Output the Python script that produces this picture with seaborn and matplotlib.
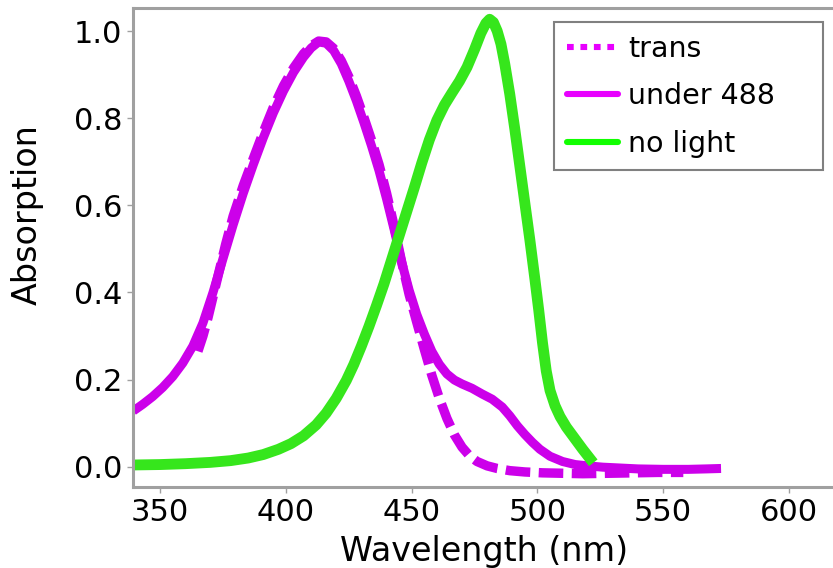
import matplotlib
matplotlib.use("Agg")
import matplotlib.pyplot as plt
from matplotlib.lines import Line2D
import pandas as pd
import seaborn as sns

# Absorption spectra (wavelength in nm, absorption in a.u.)
nolight_wl = [339, 350, 360, 370, 378, 385, 391, 397, 402, 407, 412, 416, 420, 424,
              427, 430, 433, 436, 439, 442, 445, 448, 451, 454, 457, 460, 463, 466,
              469, 472, 475, 477.5, 479.5, 481, 482.5, 484, 485.5, 487, 489, 491, 493,
              495, 497, 499, 500.5, 502, 503.5, 505, 507, 509, 511.5, 514.3, 518, 522.2]
nolight_abs = [0.004, 0.005, 0.007, 0.010, 0.014, 0.020, 0.028, 0.040, 0.053, 0.071,
               0.096, 0.123, 0.157, 0.198, 0.235, 0.277, 0.322, 0.370, 0.420, 0.475,
               0.530, 0.585, 0.640, 0.697, 0.750, 0.795, 0.830, 0.858, 0.885, 0.917,
               0.958, 0.995, 1.018, 1.027, 1.020, 1.000, 0.970, 0.925, 0.855, 0.775,
               0.690, 0.605, 0.520, 0.430, 0.360, 0.285, 0.220, 0.175, 0.140, 0.115,
               0.091, 0.069, 0.040, 0.009]

under488_wl = [339.3, 343, 347, 351, 355, 359, 363, 367, 371, 375, 379, 383, 387, 391,
               395, 399, 403, 407, 410, 413, 416, 419, 422, 425, 428, 431, 434, 437,
               440, 443, 446, 449, 452, 455, 458, 461, 464, 467, 470, 474, 478, 482,
               486, 489, 492, 495, 498, 501, 505, 510, 515, 520, 526, 533, 540, 550,
               560, 567, 573]
under488_abs = [0.128, 0.143, 0.161, 0.182, 0.207, 0.238, 0.277, 0.330, 0.400, 0.478,
                0.555, 0.627, 0.693, 0.755, 0.812, 0.862, 0.905, 0.940, 0.961, 0.975,
                0.972, 0.955, 0.925, 0.885, 0.840, 0.790, 0.737, 0.680, 0.615, 0.545,
                0.470, 0.405, 0.350, 0.305, 0.265, 0.235, 0.213, 0.199, 0.190, 0.180,
                0.167, 0.155, 0.137, 0.117, 0.094, 0.074, 0.056, 0.040, 0.024, 0.012,
                0.005, 0.002, -0.001, -0.003, -0.005, -0.006, -0.006, -0.005, -0.004]

trans_wl = [365, 367, 369, 371, 373, 376, 379, 383, 387, 391, 395, 399, 403, 407, 410,
            413, 416, 419, 422, 425, 428, 431, 434, 437, 440, 443, 446, 449, 452, 455,
            458, 461, 464, 467, 470, 473, 476, 480, 484, 489, 495, 502, 510, 518, 528,
            538, 548, 558]
trans_abs = [0.265, 0.300, 0.342, 0.390, 0.438, 0.510, 0.575, 0.645, 0.707, 0.768,
             0.825, 0.874, 0.915, 0.948, 0.966, 0.977, 0.975, 0.960, 0.932, 0.895,
             0.851, 0.802, 0.750, 0.694, 0.628, 0.553, 0.470, 0.395, 0.332, 0.270,
             0.210, 0.157, 0.111, 0.073, 0.045, 0.025, 0.012, 0.002, -0.004, -0.009,
             -0.012, -0.014, -0.015, -0.016, -0.015, -0.014, -0.013, -0.013]

x_ticks = [350, 400, 450, 500, 550, 600]
y_ticks = [0.0, 0.2, 0.4, 0.6, 0.8, 1.0]
legend_labels = ["trans", "under 488", "no light"]

MAGENTA = "#cc00ea"
GREEN = "#36e61c"
MAGENTA_KEY = "#e800ff"
GREEN_KEY = "#11ff00"

sns.set_theme(style="white")
plt.rcParams["font.family"] = ["DejaVu Sans"]
plt.rcParams["text.color"] = "black"
plt.rcParams["axes.labelcolor"] = "black"

fig = plt.figure(figsize=(8.33, 5.68), dpi=100)
# the plotting frame runs slightly past the right edge of the canvas
ax = fig.add_axes([0.160, 0.143, 0.849, 0.843])

under = pd.DataFrame({"wl": under488_wl, "abs": under488_abs})
trans = pd.DataFrame({"wl": trans_wl, "abs": trans_abs})
nolight = pd.DataFrame({"wl": nolight_wl, "abs": nolight_abs})

sns.lineplot(data=under, x="wl", y="abs", ax=ax, color=MAGENTA, linewidth=6.5,
             solid_joinstyle="round", solid_capstyle="butt", legend=False)
sns.lineplot(data=trans, x="wl", y="abs", ax=ax, color=MAGENTA, linewidth=6.8,
             linestyle=(0, (2.6, 0.9)), dash_capstyle="butt", legend=False)
sns.lineplot(data=nolight, x="wl", y="abs", ax=ax, color=GREEN, linewidth=7.8,
             solid_joinstyle="round", solid_capstyle="butt", legend=False)

ax.set_xlim(339.3, 620.5)
ax.set_ylim(-0.046, 1.053)
ax.set_xticks(x_ticks)
ax.set_yticks(y_ticks)
ax.set_xticklabels([str(t) for t in x_ticks])
ax.set_yticklabels([f"{t:.1f}" for t in y_ticks])
ax.tick_params(axis="both", which="major", direction="out", length=4, width=1,
               color="#a0a0a0", labelsize=22, labelcolor="black", pad=4,
               bottom=True, left=True)

for side in ["left", "right", "top", "bottom"]:
    ax.spines[side].set_color("#a0a0a0")
    ax.spines[side].set_linewidth(2.2)

ax.set_xlabel("Wavelength (nm)", fontsize=24, color="black")
ax.set_ylabel("Absorption", fontsize=24, color="black")
ax.xaxis.set_label_coords((484 - 133) / 707, -0.100)
ax.yaxis.set_label_coords((43 - 133) / 707, 0.568)

handles = [
    Line2D([], [], color=MAGENTA_KEY, linewidth=4.4, linestyle=(0, (1.1, 1.1))),
    Line2D([], [], color=MAGENTA_KEY, linewidth=4.4),
    Line2D([], [], color=GREEN_KEY, linewidth=4.4),
]
leg = fig.legend(handles, legend_labels, loc="upper left",
                 bbox_to_anchor=(554 / 833, 0.5, 269 / 833, 1 - 22 / 568 - 0.5),
                 bbox_transform=fig.transFigure, mode="expand", borderaxespad=0,
                 fontsize=20.5, frameon=True, fancybox=False, framealpha=1,
                 edgecolor="#808080", handlelength=1.8, handletextpad=0.35,
                 labelspacing=0.68, borderpad=0.45, labelcolor="black")
leg.get_frame().set_linewidth(1.5)

fig.savefig("out.png", dpi=100)
